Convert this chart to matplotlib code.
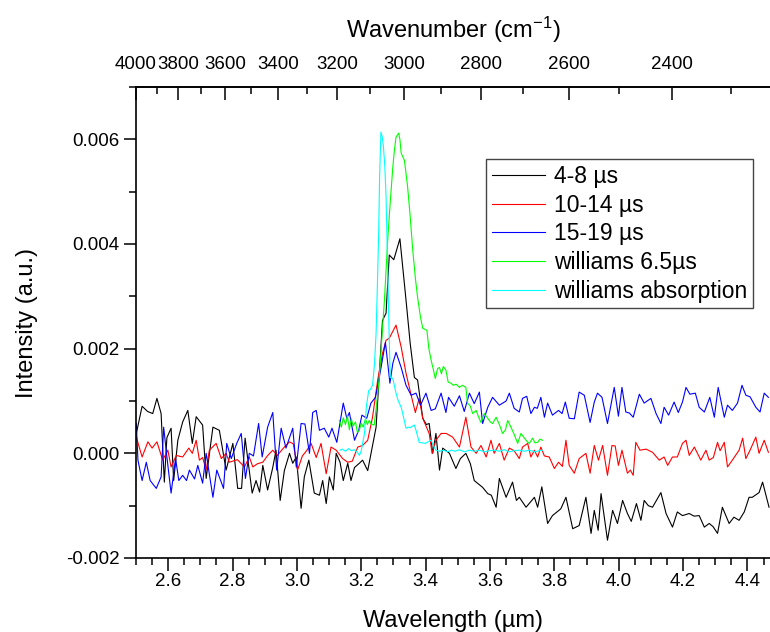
import matplotlib
matplotlib.use("Agg")
import matplotlib.pyplot as plt
import numpy as np
from matplotlib.ticker import MultipleLocator, FixedLocator, FormatStrFormatter

plt.rcParams['font.family'] = ['Liberation Sans', 'DejaVu Sans']
plt.rcParams['mathtext.default'] = 'regular'
plt.rcParams['axes.unicode_minus'] = False

# 4-8 us (wavelength um, intensity x1e-3)
wl_a = [2.501, 2.519, 2.536, 2.552, 2.565, 2.578, 2.588, 2.596, 2.609, 2.617, 2.630, 2.645, 2.661, 2.675,
        2.687, 2.707, 2.718, 2.739, 2.759, 2.780, 2.801, 2.816, 2.828, 2.839, 2.861, 2.873, 2.884, 2.894,
        2.909, 2.925, 2.935, 2.948, 2.961, 2.977, 2.987, 2.998, 3.013, 3.023, 3.037, 3.054, 3.070, 3.080,
        3.091, 3.101, 3.113, 3.122, 3.134, 3.144, 3.158, 3.168, 3.179, 3.194, 3.204, 3.220, 3.246, 3.266,
        3.277, 3.287, 3.301, 3.320, 3.339, 3.352, 3.365, 3.375, 3.391, 3.402, 3.411, 3.422, 3.432, 3.443,
        3.453, 3.474, 3.494, 3.508, 3.525, 3.539, 3.551, 3.577, 3.593, 3.604, 3.619, 3.629, 3.650, 3.670,
        3.682, 3.691, 3.712, 3.738, 3.748, 3.761, 3.779, 3.794, 3.820, 3.836, 3.857, 3.877, 3.898, 3.914,
        3.924, 3.936, 3.945, 3.965, 3.981, 3.996, 4.012, 4.027, 4.039, 4.055, 4.069, 4.079, 4.092, 4.105,
        4.131, 4.147, 4.167, 4.182, 4.198, 4.219, 4.234, 4.250, 4.266, 4.281, 4.293, 4.307, 4.322, 4.343,
        4.358, 4.374, 4.390, 4.405, 4.415, 4.436, 4.447, 4.467]
int_a = [0.38, 0.90, 0.80, 0.76, 1.05, 0.76, -0.55, 0.30, 0.48, -0.52, 0.25, 0.60, 0.82, 0.19,
         0.70, 0.54, -0.48, 0.50, 0.44, -0.32, 0.19, -0.67, -0.67, 0.29, -0.76, -0.52, -0.74, -0.23,
         -0.70, -0.27, 0.06, -0.90, -0.33, 0.00, -0.19, -0.07, -1.05, -0.45, -0.13, -0.76, -0.80, -0.52,
         -0.96, -0.45, -0.70, 0.00, -0.17, -0.52, -0.19, -0.52, -0.27, -0.19, -0.13, -0.33, 0.50, 2.54,
         2.68, 3.79, 3.70, 4.10, 2.93, 2.10, 1.45, 1.40, 0.67, 0.55, 0.57, 0.00, 0.38, -0.32,
         0.10, 0.00, -0.29, -0.10, 0.00, -0.20, -0.52, -0.65, -0.77, -0.80, -1.03, -0.48, -0.84, -0.55,
         -0.90, -0.84, -1.03, -0.84, -1.03, -0.64, -1.34, -1.19, -1.06, -0.84, -1.44, -1.38, -0.84, -1.53,
         -1.09, -1.47, -0.77, -1.66, -1.09, -1.34, -0.90, -1.15, -1.30, -0.96, -1.28, -0.90, -1.00, -1.03,
         -0.75, -1.15, -1.41, -1.12, -1.19, -1.15, -1.20, -1.19, -1.41, -1.34, -1.40, -1.53, -1.03, -1.34,
         -1.22, -1.28, -1.12, -0.84, -0.84, -0.75, -0.55, -1.03]

# 10-14 us
wl_b = [2.501, 2.519, 2.537, 2.550, 2.565, 2.583, 2.599, 2.609, 2.625, 2.645, 2.664, 2.675, 2.687, 2.697,
        2.707, 2.718, 2.728, 2.749, 2.765, 2.780, 2.790, 2.815, 2.837, 2.852, 2.863, 2.877, 2.894, 2.908,
        2.925, 2.939, 2.958, 2.977, 2.989, 3.002, 3.017, 3.030, 3.044, 3.060, 3.075, 3.091, 3.106, 3.122,
        3.142, 3.158, 3.172, 3.189, 3.204, 3.220, 3.235, 3.251, 3.266, 3.277, 3.287, 3.308, 3.324, 3.339,
        3.355, 3.368, 3.380, 3.391, 3.411, 3.420, 3.432, 3.448, 3.464, 3.484, 3.505, 3.525, 3.541, 3.557,
        3.572, 3.588, 3.603, 3.613, 3.629, 3.644, 3.660, 3.675, 3.691, 3.701, 3.717, 3.727, 3.738, 3.748,
        3.758, 3.769, 3.784, 3.800, 3.813, 3.825, 3.836, 3.846, 3.862, 3.877, 3.898, 3.911, 3.924, 3.937,
        3.950, 3.965, 3.979, 3.989, 3.999, 4.010, 4.027, 4.036, 4.045, 4.053, 4.066, 4.085, 4.105, 4.126,
        4.141, 4.152, 4.167, 4.182, 4.198, 4.209, 4.219, 4.235, 4.255, 4.271, 4.281, 4.294, 4.307, 4.315,
        4.328, 4.338, 4.353, 4.374, 4.385, 4.395, 4.408, 4.426, 4.436, 4.452, 4.465]
int_b = [0.31, -0.07, 0.22, 0.10, 0.22, -0.13, 0.06, -0.26, -0.04, -0.07, 0.10, 0.00, 0.25, -0.13,
         -0.08, -0.32, 0.06, 0.19, -0.10, 0.00, -0.17, -0.12, -0.26, -0.07, -0.26, -0.20, -0.17, -0.05,
         0.06, -0.04, 0.10, 0.22, 0.18, -0.32, -0.05, 0.05, 0.19, -0.08, 0.19, -0.39, 0.12, 0.06,
         -0.10, -0.17, -0.15, 0.12, 0.15, 0.25, 0.69, 1.40, 1.91, 2.16, 2.20, 2.45, 2.03, 1.53,
         1.11, 0.78, 1.05, 0.67, 0.38, 0.00, 0.25, 0.38, 0.38, 0.31, 0.12, 0.69, 0.12, 0.00,
         0.15, -0.07, 0.25, 0.00, 0.19, -0.13, 0.10, 0.05, -0.10, 0.12, 0.19, -0.07, 0.06, -0.07,
         0.12, -0.05, -0.07, -0.29, -0.17, -0.25, 0.25, -0.23, -0.38, -0.10, 0.00, -0.38, 0.15, -0.13,
         0.15, -0.42, 0.15, 0.14, -0.23, 0.06, -0.38, -0.32, -0.42, 0.21, 0.06, 0.08, 0.02, -0.13,
         -0.07, -0.23, -0.07, -0.07, 0.19, 0.25, -0.04, 0.12, -0.13, 0.06, -0.13, -0.08, 0.21, 0.05,
         0.21, -0.26, -0.13, 0.06, 0.29, -0.10, 0.06, 0.31, 0.00, 0.25, 0.02]

# 15-19 us
wl_c = [2.501, 2.506, 2.519, 2.532, 2.544, 2.563, 2.578, 2.586, 2.596, 2.609, 2.623, 2.633, 2.645, 2.657,
        2.666, 2.682, 2.692, 2.707, 2.718, 2.739, 2.751, 2.772, 2.782, 2.796, 2.813, 2.827, 2.840, 2.852,
        2.865, 2.881, 2.892, 2.909, 2.925, 2.937, 2.951, 2.966, 2.987, 2.998, 3.013, 3.025, 3.039, 3.049,
        3.060, 3.070, 3.085, 3.099, 3.109, 3.124, 3.144, 3.155, 3.163, 3.179, 3.192, 3.202, 3.217, 3.230,
        3.244, 3.256, 3.275, 3.289, 3.298, 3.308, 3.324, 3.339, 3.355, 3.370, 3.384, 3.401, 3.417, 3.430,
        3.448, 3.463, 3.471, 3.489, 3.505, 3.520, 3.536, 3.551, 3.567, 3.577, 3.593, 3.608, 3.629, 3.650,
        3.660, 3.675, 3.691, 3.701, 3.714, 3.727, 3.738, 3.747, 3.758, 3.769, 3.779, 3.794, 3.813, 3.824,
        3.834, 3.846, 3.862, 3.877, 3.893, 3.911, 3.924, 3.934, 3.948, 3.965, 3.986, 3.999, 4.010, 4.022,
        4.033, 4.045, 4.064, 4.079, 4.100, 4.116, 4.131, 4.141, 4.155, 4.172, 4.185, 4.198, 4.209, 4.221,
        4.238, 4.250, 4.266, 4.283, 4.297, 4.309, 4.328, 4.338, 4.353, 4.369, 4.383, 4.395, 4.408, 4.426,
        4.439, 4.452, 4.465]
int_c = [0.57, -0.13, -0.52, -0.17, -0.52, -0.67, -0.45, 0.50, -0.07, -0.76, -0.10, -0.52, -0.42, -0.52,
         -0.32, -0.49, -0.23, -0.57, 0.00, -0.84, -0.32, -0.67, 0.19, -0.10, 0.19, 0.38, -0.48, 0.00,
         -0.05, 0.57, -0.07, 0.50, 0.78, -0.32, 0.48, 0.10, 0.48, -0.26, 0.57, 0.56, 0.00, 0.78,
         0.82, 0.44, 0.48, 0.31, 0.48, 0.21, 0.96, 0.67, 0.78, 0.25, 0.44, 0.73, 0.67, 0.96,
         1.07, 1.45, 2.12, 1.34, 1.72, 1.93, 1.64, 1.30, 1.11, 1.15, 0.92, 1.15, 0.82, 0.85,
         1.15, 0.78, 1.07, 0.90, 1.10, 0.80, 1.15, 0.95, 1.17, 0.57, 0.88, 1.07, 0.92, 1.00,
         1.15, 0.86, 0.79, 1.05, 1.09, 0.76, 0.88, 0.86, 1.07, 0.69, 0.96, 0.73, 0.82, 0.76,
         0.98, 0.67, 0.66, 1.17, 1.11, 0.59, 0.98, 1.15, 1.07, 0.57, 1.26, 0.71, 1.26, 0.79,
         0.77, 0.69, 1.13, 0.96, 1.05, 0.76, 0.57, 0.88, 0.73, 0.98, 0.78, 0.98, 1.26, 1.13,
         1.15, 0.88, 0.79, 1.07, 0.69, 1.26, 0.69, 0.92, 0.82, 0.96, 1.30, 1.11, 1.08, 0.88,
         0.79, 1.15, 1.07]

# williams 6.5us
wl_d = [3.132, 3.138, 3.144, 3.151, 3.157, 3.163, 3.169, 3.175, 3.182, 3.188, 3.194, 3.200, 3.206, 3.213,
        3.219, 3.225, 3.231, 3.240, 3.247, 3.256, 3.264, 3.272, 3.282, 3.290, 3.298, 3.303, 3.308, 3.312,
        3.316, 3.320, 3.324, 3.328, 3.334, 3.339, 3.344, 3.351, 3.360, 3.368, 3.375, 3.384, 3.391, 3.398,
        3.404, 3.410, 3.417, 3.424, 3.430, 3.437, 3.443, 3.449, 3.455, 3.463, 3.470, 3.479, 3.486, 3.495,
        3.505, 3.514, 3.525, 3.530, 3.539, 3.546, 3.557, 3.564, 3.572, 3.582, 3.593, 3.601, 3.608, 3.619,
        3.629, 3.639, 3.648, 3.655, 3.665, 3.676, 3.686, 3.696, 3.707, 3.716, 3.722, 3.732, 3.740, 3.748,
        3.755, 3.763]
int_d = [0.63, 0.50, 0.68, 0.55, 0.72, 0.45, 0.66, 0.52, 0.60, 0.40, 0.44, 0.58, 0.50, 0.66,
         0.55, 0.63, 0.56, 0.54, 0.90, 1.45, 2.20, 2.93, 4.07, 4.80, 5.47, 5.80, 6.04, 6.08,
         6.12, 6.00, 5.74, 5.68, 5.60, 5.35, 5.09, 4.60, 3.88, 3.35, 2.98, 2.60, 2.39, 2.37,
         2.35, 2.00, 1.78, 1.60, 1.43, 1.62, 1.64, 1.52, 1.66, 1.59, 1.36, 1.34, 1.30, 1.32,
         1.26, 1.30, 1.26, 0.96, 0.90, 0.76, 0.82, 0.70, 0.59, 0.76, 0.67, 0.60, 0.57, 0.69,
         0.55, 0.38, 0.45, 0.63, 0.50, 0.35, 0.19, 0.38, 0.29, 0.22, 0.19, 0.29, 0.20, 0.21,
         0.27, 0.25]

# williams absorption
wl_e = [3.134, 3.141, 3.151, 3.160, 3.169, 3.179, 3.188, 3.194, 3.200, 3.210, 3.216, 3.223, 3.228, 3.235,
        3.241, 3.246, 3.250, 3.254, 3.257, 3.261, 3.265, 3.269, 3.273, 3.277, 3.282, 3.286, 3.290, 3.298,
        3.308, 3.315, 3.324, 3.331, 3.339, 3.346, 3.352, 3.359, 3.365, 3.371, 3.380, 3.390, 3.399, 3.408,
        3.417, 3.424, 3.432, 3.443, 3.455, 3.468, 3.480, 3.492, 3.505, 3.520, 3.536, 3.551, 3.567, 3.582,
        3.598, 3.613, 3.629, 3.644, 3.660, 3.676, 3.691, 3.707, 3.722, 3.738, 3.753, 3.763]
int_e = [0.06, 0.08, 0.04, 0.09, 0.05, 0.07, 0.02, -0.04, 0.05, 0.38, 0.90, 1.20, 1.22, 1.30,
         1.70, 2.29, 3.20, 4.20, 5.30, 6.14, 6.05, 5.85, 5.50, 4.90, 3.56, 2.40, 1.45, 1.43,
         1.15, 1.00, 0.88, 0.70, 0.48, 0.50, 0.49, 0.52, 0.54, 0.42, 0.21, 0.20, 0.19, 0.22,
         0.25, 0.15, 0.06, 0.04, 0.06, 0.03, 0.06, 0.04, 0.07, 0.03, 0.06, 0.04, 0.06, 0.03,
         0.05, 0.06, 0.04, 0.07, 0.03, 0.05, 0.06, 0.04, 0.06, 0.03, 0.05, 0.06]

labels = ['4-8 µs', '10-14 µs', '15-19 µs', 'williams 6.5µs', 'williams absorption']
colors = ['#000000', '#ff0000', '#0000ff', '#00ff00', '#00ffff']
series = [(wl_a, int_a), (wl_b, int_b), (wl_c, int_c), (wl_d, int_d), (wl_e, int_e)]

wn_major = [4000, 3800, 3600, 3400, 3200, 3000, 2800, 2600, 2400]
wn_minor = [3900, 3700, 3500, 3300, 3100, 2900, 2700, 2500, 2300]

fig = plt.figure(figsize=(7.7, 6.32), dpi=100)
ax = fig.add_axes([136 / 770, 74 / 632, 634 / 770, 471 / 632])

for (x, y), c, lab in zip(series, colors, labels):
    ax.plot(x, np.array(y) / 1000, color=c, lw=0.8, label=lab)

ax.set_xlim(2.5, 4.47)
ax.set_ylim(-0.002, 0.007)

ax.xaxis.set_major_locator(MultipleLocator(0.2))
ax.xaxis.set_minor_locator(MultipleLocator(0.05))
ax.xaxis.set_major_formatter(FormatStrFormatter('%.1f'))
ax.yaxis.set_major_locator(MultipleLocator(0.002))
ax.yaxis.set_minor_locator(MultipleLocator(0.001))
ax.yaxis.set_major_formatter(FormatStrFormatter('%.3f'))

ax.tick_params(which='both', direction='out', labelsize=13.5, width=1.1, top=False, right=False)
ax.tick_params(which='major', length=9)
ax.tick_params(which='minor', length=5)
ax.tick_params(axis='x', which='major', pad=2)
ax.tick_params(axis='y', which='major', pad=3)

for s in ['left', 'bottom', 'top']:
    ax.spines[s].set_linewidth(1.2)
ax.spines['right'].set_visible(False)

ax.set_xlabel('Wavelength (µm)', fontsize=17, labelpad=14)
ax.set_ylabel('Intensity (a.u.)', fontsize=17, labelpad=20)


def to_wn(x):
    x = np.asarray(x, dtype=float)
    with np.errstate(divide='ignore'):
        return np.where(x != 0, 1e4 / x, np.inf)


top = ax.secondary_xaxis('top', functions=(to_wn, to_wn))
top.xaxis.set_major_locator(FixedLocator(wn_major))
top.xaxis.set_minor_locator(FixedLocator(wn_minor))
top.tick_params(which='both', direction='in', labelsize=13.5, width=1.1)
top.tick_params(which='major', length=9, pad=10)
top.tick_params(which='minor', length=5)
top.spines['top'].set_linewidth(1.2)
top.set_xlabel('Wavenumber (cm$^{-1}$)', fontsize=17, labelpad=13)

leg = ax.legend(loc='upper right', bbox_to_anchor=(0.973, 0.847), borderaxespad=0,
                fontsize=16.5, handlelength=2.3, handletextpad=0.4, labelspacing=0.25,
                borderpad=0.25, fancybox=False, framealpha=1, edgecolor='#444444')
leg.get_frame().set_linewidth(1.0)

plt.savefig('out.png', dpi=100)
